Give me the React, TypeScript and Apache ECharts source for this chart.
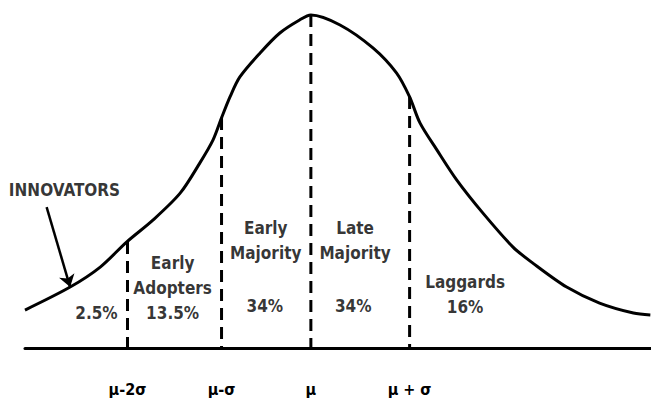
import React, { useEffect, useRef } from "react";
import * as echarts from "echarts";

// x in sigma-like units (mu = 0), y relative height (peak = 1)
const curveX = [-3.04, -2.56, -2.24, -1.96, -1.68, -1.39, -1.18, -1.04, -0.95, -0.86, -0.755, -0.54, -0.33, -0.12, 0, 0.31, 0.66, 0.91, 1.05, 1.16, 1.34, 1.55, 1.83, 2.15, 2.36, 2.72, 3.07, 3.43, 3.61];
const curveY = [0.114, 0.183, 0.243, 0.318, 0.384, 0.465, 0.556, 0.625, 0.691, 0.754, 0.814, 0.886, 0.946, 0.985, 1.0, 0.97, 0.901, 0.826, 0.754, 0.676, 0.595, 0.505, 0.405, 0.303, 0.255, 0.183, 0.135, 0.105, 0.099];

const dividerX = [-1.95, -0.95, 0, 1.05];
const dividerTop = [0.318, 0.691, 1.0, 0.754];
const tickLabels = ["μ-2σ", "μ-σ", "μ", "μ + σ"];

const segmentLabels = ["2.5%", "Early\nAdopters\n13.5%", "Early\nMajority", "34%", "Late\nMajority", "34%", "Laggards\n16%", "INNOVATORS"];
const segmentLabelX = [-2.28, -1.47, -0.48, -0.49, 0.47, 0.45, 1.64, -2.62];
const segmentLabelY = [0.105, 0.18, 0.323, 0.126, 0.323, 0.126, 0.162, 0.474];

const arrowFrom = [-2.81, 0.423];
const arrowTo = [-2.56, 0.183];

const FONT = "DejaVu Sans Condensed";

export default function App() {
  const ref = useRef<HTMLDivElement>(null);
  useEffect(() => {
    if (!ref.current) return;
    const chart = echarts.init(ref.current, null, { renderer: "svg" });
    const dividers = dividerX.map((x, i) => ({
      type: "line",
      data: [
        [x, dividerTop[i]],
        [x, 0],
      ],
      symbol: "none",
      clip: false,
      silent: true,
      lineStyle: { color: "#000", width: 3, type: [12, 7] },
      z: 2,
    }));
    chart.setOption({
      animation: false,
      backgroundColor: "#fff",
      grid: { left: 25, right: 0, top: 15, bottom: 53 },
      xAxis: {
        type: "value",
        min: -3.04,
        max: 3.617,
        splitLine: { show: false },
        axisLine: { show: true, onZero: false, lineStyle: { color: "#000", width: 3 } },
        axisTick: { show: false },
        axisLabel: {
          customValues: dividerX,
          formatter: (v: number) => {
            const i = dividerX.findIndex((d) => Math.abs(d - v) < 1e-6);
            return i >= 0 ? tickLabels[i] : "";
          },
          margin: 33,
          color: "#000",
          fontFamily: FONT,
          fontWeight: "bold",
          fontSize: 16,
        },
      },
      yAxis: { type: "value", min: 0, max: 1, show: false },
      series: [
        {
          type: "line",
          data: curveX.map((x, i) => [x, curveY[i]]),
          smooth: 0.3,
          symbol: "none",
          clip: false,
          lineStyle: { color: "#000", width: 3 },
          z: 3,
          markLine: {
            silent: true,
            symbol: ["none", "arrow"],
            symbolSize: 12,
            label: { show: false },
            lineStyle: { color: "#000", width: 2.5, type: "solid" },
            data: [[{ coord: arrowFrom }, { coord: arrowTo }]],
          },
        },
        ...dividers,
        {
          type: "scatter",
          symbolSize: 0,
          silent: true,
          clip: false,
          data: segmentLabels.map((t, i) => ({ name: t, value: [segmentLabelX[i], segmentLabelY[i]] })),
          label: {
            show: true,
            position: "inside",
            formatter: (p: any) => p.name,
            color: "#000",
            fontFamily: FONT,
            fontWeight: "bold",
            fontSize: 17,
            lineHeight: 25,
            align: "center",
            verticalAlign: "middle",
          },
        },
      ],
    });
    return () => chart.dispose();
  }, []);
  return <div ref={ref} style={{ position: "fixed", left: 0, top: 0, width: 651, height: 401 }} />;
}
